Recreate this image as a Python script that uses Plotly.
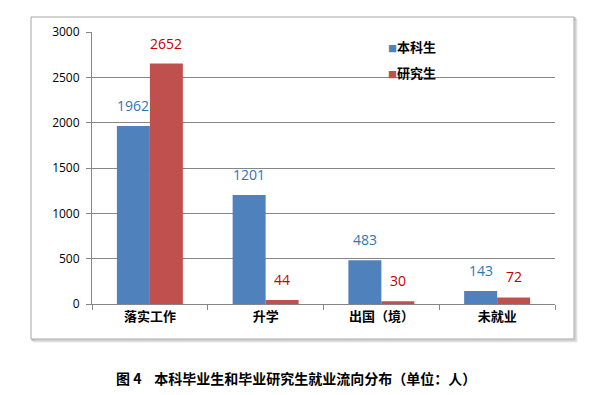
import plotly.graph_objects as go

categories = ["落实工作", "升学", "出国（境）", "未就业"]
series_names = ["本科生", "研究生"]
undergrad = [1962, 1201, 483, 143]
graduate = [2652, 44, 30, 72]
y_ticks = [0, 500, 1000, 1500, 2000, 2500, 3000]
caption = "图 4&nbsp;&nbsp;&nbsp;&nbsp;本科毕业生和毕业研究生就业流向分布（单位：人）"

bar_colors = ["#4F81BD", "#C0504D"]
label_colors = ["#2E75B6", "#C00000"]

# page body has an 8px margin; work in reference pixel coords and shift
OFF = 8
W, H = 606 - OFF, 395 - OFF
L, R, T, B = 92 - OFF, 555 - OFF, 32 - OFF, 304 - OFF
pw, ph = R - L, B - T


def px(x):
    return (x - OFF - L) / pw


def py(y):
    return (B - (y - OFF)) / ph


cjk = "Noto Sans CJK SC"
num = "Open Sans"

fig = go.Figure()
for name, vals, col in zip(series_names, [undergrad, graduate], bar_colors):
    fig.add_trace(go.Bar(name=name, x=categories, y=vals, marker=dict(color=col, line=dict(width=0)),
                         showlegend=False, cliponaxis=False))

# value labels
bar_half = 16.5
for i, (vals, col) in enumerate(zip([undergrad, graduate], label_colors)):
    shift = -bar_half if i == 0 else bar_half
    for c, v in zip(categories, vals):
        fig.add_annotation(x=c, y=v, xref="x", yref="y", text=str(v), showarrow=False,
                           xshift=shift, yshift=9, yanchor="bottom",
                           font=dict(family=num, size=14, color=col))

# legend (manual)
for k, (name, col) in enumerate(zip(series_names, bar_colors)):
    fig.add_annotation(xref="paper", yref="paper", x=px(386), y=py(46 + 26 * k),
                       xanchor="left", yanchor="middle", showarrow=False,
                       text=f"<span style='color:{col};font-size:9px'>■</span>{name}",
                       font=dict(family=cjk, size=13, color="#000000", weight="bold"))

# caption
fig.add_annotation(xref="paper", yref="paper", x=px(295.5), y=py(378), xanchor="center", yanchor="middle",
                   showarrow=False, text=caption,
                   font=dict(family=cjk, size=14, color="#000000", weight="bold"))

# chart frame with shadow
for off, a in [(3, 0.06), (2, 0.10), (1, 0.16)]:
    fig.add_shape(type="rect", xref="paper", yref="paper", layer="below",
                  x0=px(31 + off), x1=px(574 + off), y0=py(339 + off), y1=py(17 + off),
                  line=dict(color=f"rgba(0,0,0,{a})", width=1.5), fillcolor="rgba(0,0,0,0)")
fig.add_shape(type="rect", xref="paper", yref="paper", layer="below",
              x0=px(31), x1=px(574), y0=py(339), y1=py(17),
              line=dict(color="#A6A6A6", width=1), fillcolor="white")

fig.update_layout(
    width=W, height=H,
    margin=dict(l=L, r=W - R, t=T, b=H - B, pad=0),
    paper_bgcolor="white", plot_bgcolor="rgba(0,0,0,0)",
    barmode="group", bargap=0.43, bargroupgap=0,
    showlegend=False,
)
fig.update_xaxes(showline=True, linecolor="#868686", linewidth=1, ticks="outside", tickson="boundaries",
                 ticklen=5, tickcolor="#868686", showgrid=False,
                 tickfont=dict(family=cjk, size=13, color="#000000", weight="bold"))
fig.update_yaxes(range=[0, 3000], tickvals=y_ticks, showline=True, linecolor="#868686", linewidth=1,
                 ticks="outside", ticklen=5, tickcolor="#868686", showgrid=True, gridcolor="#868686",
                 gridwidth=1, zeroline=False, ticklabelstandoff=4,
                 tickfont=dict(family=num, size=12, color="#000000"))

fig.write_html("out.html")
